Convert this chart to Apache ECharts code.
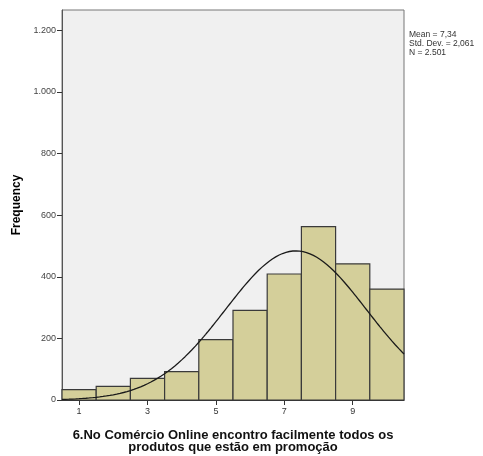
<!DOCTYPE html>
<html>
<head>
<meta charset="utf-8">
<script src="https://cdn.jsdelivr.net/npm/echarts@6/dist/echarts.min.js"></script>
<style>
  html, body { margin: 0; padding: 0; background: #ffffff; }
  #chart { width: 483px; height: 456px; }
</style>
</head>
<body>
<div id="chart"></div>
<script>
// Response scale (1..10) and the number of respondents per score
const scores = [1, 2, 3, 4, 5, 6, 7, 8, 9, 10];
const frequencies = [34, 44, 70, 92, 196, 291, 409, 563, 442, 360];
const xTickValues = [1, 3, 5, 7, 9];
const yTickValues = [0, 200, 400, 600, 800, 1000, 1200];

// Summary statistics shown beside the plot
const statMean = 7.34;
const statStdDev = 2.061;
const statN = 2501;

const titleLines = [
  '6.No Comércio Online encontro facilmente todos os',
  'produtos que estão em promoção'
];

// Fitted normal curve scaled to counts (bin width 1)
const curveXs = [];
for (let i = 0; i <= 200; i++) curveXs.push(0.5 + i * 0.05);
const curveData = curveXs.map(function (x) {
  const z = (x - statMean) / statStdDev;
  return [x, statN / (statStdDev * Math.sqrt(2 * Math.PI)) * Math.exp(-0.5 * z * z)];
});

const fmt = function (v) {
  return String(v).replace(/\B(?=(\d{3})+(?!\d))/g, '.');
};

const chart = echarts.init(document.getElementById('chart'), null, { renderer: 'canvas' });

chart.setOption({
  animation: false,
  backgroundColor: '#ffffff',
  textStyle: { fontFamily: 'Liberation Sans, Arial, sans-serif' },
  grid: {
    left: 62, right: 79, top: 10, bottom: 56,
    show: true,
    backgroundColor: '#f0f0f0',
    borderColor: '#777777',
    borderWidth: 1
  },
  xAxis: {
    type: 'value',
    min: 0.5,
    max: 10.5,
    splitLine: { show: false },
    axisLine: { show: true, onZero: false, lineStyle: { color: '#333333', width: 1 } },
    axisTick: {
      show: true, customValues: xTickValues, length: 5, inside: false,
      lineStyle: { color: '#333333' }
    },
    axisLabel: {
      customValues: xTickValues, color: '#333333', fontSize: 9, margin: 7,
      fontFamily: 'Liberation Sans, Arial, sans-serif'
    }
  },
  yAxis: {
    type: 'value',
    min: 0,
    max: 1266,
    name: 'Frequency',
    nameLocation: 'middle',
    nameGap: 38,
    nameTextStyle: {
      color: '#000000', fontSize: 12, fontWeight: 'bold',
      fontFamily: 'Liberation Sans, Arial, sans-serif'
    },
    splitLine: { show: false },
    axisLine: { show: true, lineStyle: { color: '#555555', width: 1 } },
    axisTick: {
      show: true, customValues: yTickValues, length: 5,
      lineStyle: { color: '#333333' }
    },
    axisLabel: {
      customValues: yTickValues, color: '#444444', fontSize: 9, margin: 6,
      fontFamily: 'Liberation Sans, Arial, sans-serif',
      formatter: fmt
    }
  },
  series: [
    {
      type: 'custom',
      name: 'Frequency',
      data: scores.map(function (s, i) { return [s, frequencies[i]]; }),
      renderItem: function (params, api) {
        const x = api.value(0);
        const y = api.value(1);
        const p0 = api.coord([x - 0.5, 0]);
        const p1 = api.coord([x + 0.5, y]);
        return {
          type: 'rect',
          shape: { x: p0[0], y: p1[1], width: p1[0] - p0[0], height: p0[1] - p1[1] },
          style: { fill: '#d4cf9a', stroke: '#3a3a3a', lineWidth: 1.2 }
        };
      },
      z: 2
    },
    {
      type: 'line',
      name: 'Normal',
      data: curveData,
      showSymbol: false,
      smooth: false,
      lineStyle: { color: '#1a1a1a', width: 1.3 },
      z: 3
    }
  ],
  graphic: [
    {
      type: 'text',
      left: 409, top: 30,
      style: {
        text: 'Mean = ' + String(statMean).replace('.', ',') + '\n' +
              'Std. Dev. = ' + String(statStdDev).replace('.', ',') + '\n' +
              'N = ' + fmt(statN),
        fill: '#333333',
        fontSize: 8.5,
        lineHeight: 9,
        fontFamily: 'Liberation Sans, Arial, sans-serif'
      }
    },
    {
      type: 'text',
      x: 233, y: 429,
      style: {
        text: titleLines.join('\n'),
        align: 'center',
        fill: '#111111',
        fontSize: 13,
        fontWeight: 'bold',
        lineHeight: 12.5,
        fontFamily: 'Liberation Sans, Arial, sans-serif'
      }
    }
  ]
});
</script>
</body>
</html>
